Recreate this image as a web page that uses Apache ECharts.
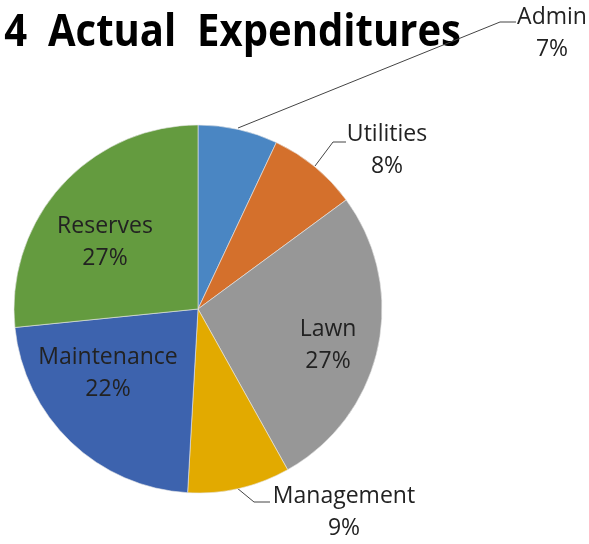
<!DOCTYPE html>
<html><head><meta charset="utf-8">
<script src="https://cdn.jsdelivr.net/npm/echarts@6/dist/echarts.min.js"></script>
<style>html,body{margin:0;padding:0;background:#fff}#c{width:589px;height:544px}</style>
</head><body><div id="c"></div>
<script>
const categories = ['Admin', 'Utilities', 'Lawn', 'Management', 'Maintenance', 'Reserves'];
const values = [7.0, 7.9, 27.0, 9.0, 22.5, 26.6];
const colors = ['#4A86C3', '#D4702C', '#979797', '#E2AA00', '#3D63AE', '#649B3F'];
const insideLabels = ['Lawn', 'Maintenance', 'Reserves'];
const titleText = '2014  Actual  Expenditures';

// label anchor placements (label centre) and leader lines
const labelPlace = {
  Admin: {x: 552, y: 33, line: [[238, 128], [500, 22], [516, 22]]},
  Utilities: {x: 387, y: 150, line: [[315, 166], [333, 142], [346, 142]]},
  Lawn: {x: 328, y: 345},
  Management: {x: 344, y: 512, line: [[237, 488], [254, 502], [270, 502]]},
  Maintenance: {x: 108, y: 373},
  Reserves: {x: 105, y: 242}
};

const chart = echarts.init(document.getElementById('c'), null, {renderer: 'canvas'});
const font = 'Open Sans';
chart.setOption({
  animation: false,
  graphic: [{
    type: 'text', x: 461, y: 11, scaleX: 0.89, originX: 0, originY: 0,
    style: {text: titleText, font: 'bold 45px ' + font, fill: '#000',
      textAlign: 'right', textVerticalAlign: 'top'}
  }],
  series: [{
    type: 'pie',
    center: [198, 309],
    radius: 184,
    startAngle: 90,
    clockwise: true,
    percentPrecision: 0,
    avoidLabelOverlap: false,
    itemStyle: {borderColor: '#e8e8e8', borderWidth: 0.6},
    label: {
      formatter: '{b}\n{d}%', fontFamily: font, fontSize: 23, color: '#222',
      lineHeight: 32, align: 'center'
    },
    labelLine: {show: true, lineStyle: {color: '#444', width: 1}},
    emphasis: {disabled: true},
    labelLayout: function (p) {
      const name = categories[p.dataIndex];
      const pl = labelPlace[name];
      const o = {x: pl.x, y: pl.y, align: 'center', verticalAlign: 'middle'};
      if (pl.line) o.labelLinePoints = pl.line;
      return o;
    },
    data: categories.map((c, i) => ({
      name: c, value: values[i],
      itemStyle: {color: colors[i]},
      label: {position: insideLabels.includes(c) ? 'inside' : 'outside'},
      labelLine: {show: !insideLabels.includes(c)}
    }))
  }]
});
</script></body></html>
